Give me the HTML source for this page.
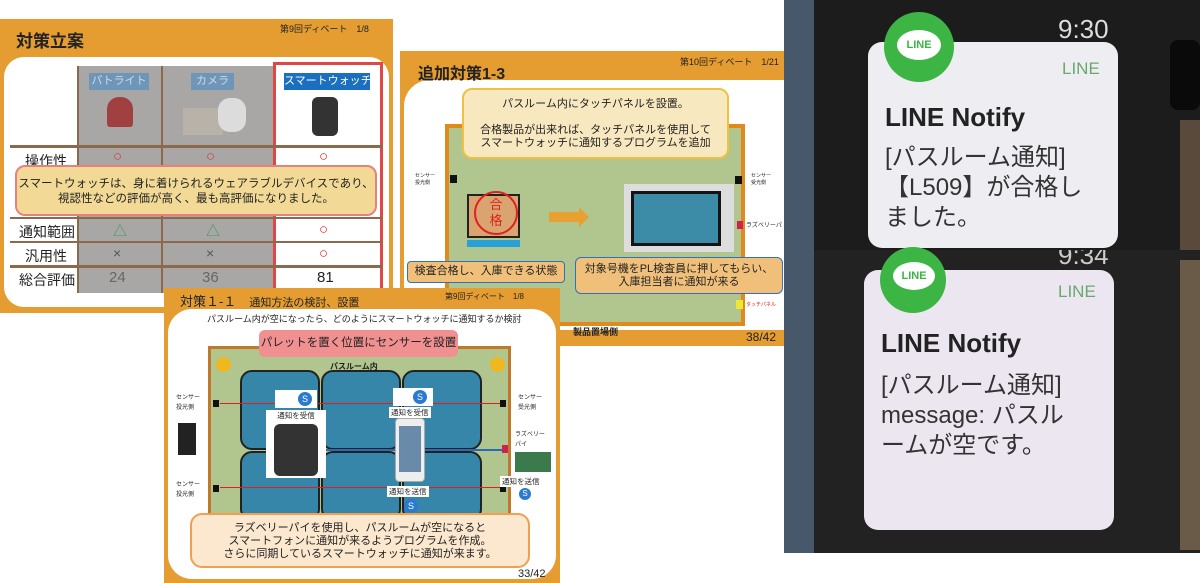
<!DOCTYPE html>
<html><head><meta charset="utf-8"><style>
*{margin:0;padding:0;box-sizing:border-box}
body{width:1200px;height:583px;background:#fff;position:relative;overflow:hidden;font-family:"Liberation Sans","Noto Sans CJK JP",sans-serif;color:#222}
.a{position:absolute}
.t{position:absolute;white-space:nowrap}
</style></head><body>

<!-- Slide 1 -->
<div class="a" style="left:0;top:19px;width:393px;height:294px;background:#e59d32"></div>
<div class="a" style="left:4px;top:57px;width:385px;height:250px;background:#fff;border-radius:20px"></div>
<div class="t" style="left:16px;top:27px;font-size:17px;font-weight:bold">対策立案</div>
<div class="t" style="left:280px;top:22px;font-size:9px">第9回ディベート　1/8</div>
<div class="a" style="left:77px;top:66px;width:196px;height:227px;background:#a9a7a6"></div>
<div class="a" style="left:161px;top:66px;width:2px;height:227px;background:#8a6a4a"></div>
<div class="a" style="left:77px;top:66px;width:2px;height:227px;background:#8a6a4a"></div>
<div class="a" style="left:273px;top:62px;width:110px;height:238px;border:3px solid #e04848"></div>
<div class="t" style="left:89px;top:73px;width:60px;height:17px;background:#6d96b8;color:#cfd9e2;font-size:11px;text-align:center;line-height:17px">パトライト</div>
<div class="t" style="left:191px;top:73px;width:43px;height:17px;background:#6d96b8;color:#cfd9e2;font-size:11px;text-align:center;line-height:17px">カメラ</div>
<div class="t" style="left:284px;top:73px;width:86px;height:17px;background:#1a6fbf;color:#fff;font-size:11px;text-align:center;line-height:17px">スマートウォッチ</div>
<div class="a" style="left:107px;top:97px;width:26px;height:30px;background:#a04040;border-radius:12px 12px 3px 3px"></div>
<div class="a" style="left:183px;top:108px;width:40px;height:27px;background:#b8b2a8"></div>
<div class="a" style="left:218px;top:98px;width:28px;height:34px;background:#dcdcdc;border-radius:12px"></div>
<div class="a" style="left:312px;top:97px;width:26px;height:39px;background:#333;border-radius:6px"></div>
<div class="a" style="left:10px;top:145px;width:373px;height:3px;background:#8a6a4a"></div>
<div class="a" style="left:10px;top:217px;width:373px;height:2px;background:#8a6a4a"></div>
<div class="a" style="left:10px;top:241px;width:373px;height:2px;background:#8a6a4a"></div>
<div class="a" style="left:10px;top:265px;width:373px;height:3px;background:#8a6a4a"></div>
<div class="t" style="left:25px;top:151px;font-size:14px">操作性</div>
<div class="t" style="left:19px;top:222px;font-size:14px">通知範囲</div>
<div class="t" style="left:25px;top:246px;font-size:14px">汎用性</div>
<div class="t" style="left:19px;top:270px;font-size:14px">総合評価</div>
<div class="t" style="left:113px;top:148px;font-size:15px;color:#d04040">○</div>
<div class="t" style="left:206px;top:148px;font-size:15px;color:#d04040">○</div>
<div class="t" style="left:319px;top:148px;font-size:15px;color:#e02020">○</div>
<div class="t" style="left:113px;top:221px;font-size:14px;color:#3a9a5a">△</div>
<div class="t" style="left:206px;top:221px;font-size:14px;color:#3a9a5a">△</div>
<div class="t" style="left:319px;top:221px;font-size:15px;color:#e02020">○</div>
<div class="t" style="left:113px;top:245px;font-size:14px;color:#555">×</div>
<div class="t" style="left:206px;top:245px;font-size:14px;color:#555">×</div>
<div class="t" style="left:319px;top:245px;font-size:15px;color:#e02020">○</div>
<div class="t" style="left:109px;top:269px;font-size:15px;color:#666">24</div>
<div class="t" style="left:202px;top:269px;font-size:15px;color:#666">36</div>
<div class="t" style="left:317px;top:269px;font-size:15px">81</div>
<div class="a" style="left:15px;top:165px;width:362px;height:51px;background:#f2da96;border:2px solid #e88080;border-radius:10px;font-size:11.5px;text-align:center;line-height:15px;padding-top:10px">スマートウォッチは、身に着けられるウェアラブルデバイスであり、<br>視認性などの評価が高く、最も高評価になりました。</div>

<!-- Slide 2 -->
<div class="a" style="left:400px;top:51px;width:400px;height:295px;background:#e59d32"></div>
<div class="a" style="left:404px;top:80px;width:400px;height:250px;background:#fff;border-radius:26px 0 0 0"></div>
<div class="t" style="left:418px;top:60px;font-size:16px;font-weight:bold">追加対策1-3</div>
<div class="t" style="left:680px;top:55px;font-size:9px">第10回ディベート　1/21</div>
<div class="a" style="left:445px;top:124px;width:300px;height:202px;background:#b0c68e;border:4px solid #e08a1c"></div>
<div class="a" style="left:450px;top:175px;width:7px;height:8px;background:#111"></div>
<div class="a" style="left:735px;top:176px;width:7px;height:8px;background:#111"></div>
<div class="t" style="left:415px;top:173px;font-size:5px;line-height:7px">センサー<br>投光側</div>
<div class="t" style="left:751px;top:173px;font-size:5px;line-height:7px">センサー<br>受光側</div>
<div class="a" style="left:467px;top:194px;width:53px;height:44px;background:#d9a470;border:2px solid #222"></div>
<div class="a" style="left:467px;top:240px;width:53px;height:7px;background:#28a0d8"></div>
<div class="a" style="left:474px;top:191px;width:44px;height:44px;border:2px solid #e02020;border-radius:50%;color:#e02020;font-size:13px;text-align:center;line-height:16px;padding-top:4px">合<br>格</div>
<div class="a" style="left:549px;top:212px;width:30px;height:10px;background:#e8a030"></div>
<div class="a" style="left:579px;top:207px;width:0;height:0;border-left:10px solid #e8a030;border-top:10px solid transparent;border-bottom:10px solid transparent"></div>
<div class="a" style="left:624px;top:184px;width:110px;height:68px;background:#ddd"></div>
<div class="a" style="left:631px;top:191px;width:90px;height:55px;background:#141414;padding:3px"><div style="width:100%;height:100%;background:#3c8ca8"></div></div>
<div class="a" style="left:737px;top:221px;width:6px;height:8px;background:#d02050"></div>
<div class="t" style="left:746px;top:220px;font-size:6px">ラズベリーパ</div>
<div class="a" style="left:736px;top:300px;width:7px;height:9px;background:#eee830"></div>
<div class="t" style="left:746px;top:301px;font-size:5px;color:#e02020">タッチパネル</div>
<div class="a" style="left:462px;top:88px;width:267px;height:71px;background:#f8e8bf;border:2px solid #f0c040;border-radius:10px;font-size:11px;text-align:center;line-height:13px;padding-top:8px">パスルーム内にタッチパネルを設置。<br><br>合格製品が出来れば、タッチパネルを使用して<br>スマートウォッチに通知するプログラムを追加</div>
<div class="a" style="left:407px;top:261px;width:158px;height:22px;background:#f0c07a;border:1.5px solid #3070c0;border-radius:4px;font-size:11px;text-align:center;line-height:19px">検査合格し、入庫できる状態</div>
<div class="a" style="left:575px;top:257px;width:208px;height:37px;background:#f0c07a;border:1.5px solid #3070c0;border-radius:6px;font-size:11px;text-align:center;line-height:13px;padding-top:5px">対象号機をPL検査員に押してもらい、<br>入庫担当者に通知が来る</div>
<div class="t" style="left:573px;top:325px;font-size:9px;font-weight:bold">製品置場側</div>
<div class="t" style="left:746px;top:330px;font-size:12px">38/42</div>

<!-- Slide 3 -->
<div class="a" style="left:164px;top:288px;width:396px;height:295px;background:#e59d32"></div>
<div class="a" style="left:168px;top:309px;width:388px;height:270px;background:#fff;border-radius:24px"></div>
<div class="t" style="left:180px;top:291px;font-size:13px">対策１-１　<span style="font-size:11px">通知方法の検討、設置</span></div>
<div class="t" style="left:445px;top:291px;font-size:8px">第9回ディベート　1/8</div>
<div class="t" style="left:207px;top:312px;font-size:9px">パスルーム内が空になったら、どのようにスマートウォッチに通知するか検討</div>
<div class="a" style="left:208px;top:346px;width:303px;height:175px;background:#b0c68e;border:3px solid #c0782a"></div>
<div class="a" style="left:216px;top:357px;width:15px;height:15px;border-radius:50%;background:#f0b820"></div>
<div class="a" style="left:490px;top:357px;width:15px;height:15px;border-radius:50%;background:#f0b820"></div>
<div class="t" style="left:330px;top:361px;font-size:8px;font-weight:bold">パスルーム内</div>
<div class="a" style="left:240px;top:370px;width:80px;height:80px;background:#3586a8;border:2px solid #222;border-radius:12px"></div>
<div class="a" style="left:321px;top:370px;width:80px;height:80px;background:#3586a8;border:2px solid #222;border-radius:12px"></div>
<div class="a" style="left:402px;top:370px;width:80px;height:80px;background:#3586a8;border:2px solid #222;border-radius:12px"></div>
<div class="a" style="left:240px;top:451px;width:80px;height:70px;background:#3586a8;border:2px solid #222;border-radius:12px"></div>
<div class="a" style="left:321px;top:451px;width:80px;height:70px;background:#3586a8;border:2px solid #222;border-radius:12px"></div>
<div class="a" style="left:402px;top:451px;width:80px;height:70px;background:#3586a8;border:2px solid #222;border-radius:12px"></div>
<div class="a" style="left:220px;top:403px;width:285px;height:1px;background:#e02020"></div>
<div class="a" style="left:220px;top:487px;width:285px;height:1px;background:#e02020"></div>
<div class="a" style="left:325px;top:449px;width:180px;height:2px;background:#2a6ab8"></div>
<div class="a" style="left:213px;top:400px;width:6px;height:7px;background:#111"></div>
<div class="a" style="left:500px;top:400px;width:6px;height:7px;background:#111"></div>
<div class="a" style="left:213px;top:485px;width:6px;height:7px;background:#111"></div>
<div class="a" style="left:500px;top:485px;width:6px;height:7px;background:#111"></div>
<div class="a" style="left:502px;top:445px;width:6px;height:8px;background:#d02050"></div>
<div class="t" style="left:176px;top:393px;font-size:6px;line-height:10px">センサー<br>投光側</div>
<div class="t" style="left:176px;top:480px;font-size:6px;line-height:10px">センサー<br>投光側</div>
<div class="t" style="left:518px;top:393px;font-size:6px;line-height:10px">センサー<br>受光側</div>
<div class="t" style="left:515px;top:430px;font-size:6px;line-height:10px">ラズベリー<br>パイ</div>
<div class="a" style="left:178px;top:423px;width:18px;height:32px;background:#222"></div>
<div class="a" style="left:515px;top:452px;width:36px;height:20px;background:#3b7a4a"></div>
<div class="a" style="left:275px;top:390px;width:42px;height:18px;background:#fff"></div>
<div class="a" style="left:298px;top:392px;width:14px;height:14px;border-radius:50%;background:#2a7ad0;color:#fff;font-size:9px;text-align:center;line-height:14px">S</div>
<div class="a" style="left:266px;top:410px;width:60px;height:68px;background:#fff;font-size:7.5px;text-align:center"><div>通知を受信</div><div style="margin:3px auto;width:44px;height:52px;background:#333;border-radius:6px"></div></div>
<div class="a" style="left:393px;top:388px;width:40px;height:18px;background:#fff"></div>
<div class="a" style="left:413px;top:390px;width:14px;height:14px;border-radius:50%;background:#2a7ad0;color:#fff;font-size:9px;text-align:center;line-height:14px">S</div>
<div class="t" style="left:389px;top:407px;background:#fff;font-size:7.5px;padding:0 2px">通知を受信</div>
<div class="a" style="left:395px;top:418px;width:30px;height:64px;background:#eee;border:1px solid #aaa;border-radius:4px"><div style="margin:7px 3px;height:46px;background:#6a8aaa"></div></div>
<div class="t" style="left:387px;top:486px;background:#fff;font-size:7.5px;padding:0 2px">通知を送信</div>
<div class="a" style="left:404px;top:499px;width:14px;height:14px;border-radius:50%;background:#2a7ad0;color:#fff;font-size:9px;text-align:center;line-height:14px">S</div>
<div class="t" style="left:500px;top:476px;background:#fff;font-size:7.5px;padding:0 2px">通知を送信</div>
<div class="a" style="left:519px;top:488px;width:12px;height:12px;border-radius:50%;background:#2a7ad0;color:#fff;font-size:8px;text-align:center;line-height:12px">S</div>
<div class="a" style="left:259px;top:330px;width:199px;height:27px;background:#f09090;border-radius:6px;font-size:11.5px;text-align:center;line-height:27px">パレットを置く位置にセンサーを設置</div>
<div class="a" style="left:190px;top:513px;width:340px;height:55px;background:#fbe8ce;border:2px solid #f0a050;border-radius:12px;font-size:11px;text-align:center;line-height:13px;padding-top:7px">ラズベリーパイを使用し、パスルームが空になると<br>スマートフォンに通知が来るようプログラムを作成。<br>さらに同期しているスマートウォッチに通知が来ます。</div>
<div class="t" style="left:518px;top:568px;font-size:11px">33/42</div>

<!-- Photos -->
<div class="a" style="left:784px;top:0;width:416px;height:250px;background:#1c1c1c"></div>
<div class="a" style="left:784px;top:250px;width:416px;height:303px;background:#222"></div>
<div class="a" style="left:784px;top:0;width:30px;height:553px;background:#46586a"></div>
<div class="a" style="left:1170px;top:40px;width:30px;height:70px;background:#0a0a0a;border-radius:8px"></div>
<div class="a" style="left:1180px;top:120px;width:20px;height:130px;background:#5a4a3c"></div>
<div class="a" style="left:1180px;top:260px;width:20px;height:290px;background:#6a5a48"></div>
<div class="a" style="left:868px;top:42px;width:250px;height:206px;background:#eeeef2;border-radius:14px"></div>
<div class="a" style="left:864px;top:270px;width:250px;height:260px;background:#ece6f0;border-radius:14px"></div>
<div class="a" style="left:884px;top:12px;width:70px;height:70px;border-radius:50%;background:#3cb544"></div>
<div class="a" style="left:897px;top:30px;width:44px;height:30px;border-radius:50%;background:#fff;color:#3cb544;font-size:11px;font-weight:bold;text-align:center;line-height:30px">LINE</div>
<div class="a" style="left:880px;top:247px;width:66px;height:66px;border-radius:50%;background:#3cb544"></div>
<div class="a" style="left:893px;top:262px;width:42px;height:28px;border-radius:50%;background:#fff;color:#3cb544;font-size:11px;font-weight:bold;text-align:center;line-height:28px">LINE</div>
<div class="t" style="left:1058px;top:14px;font-size:26px;color:#ddd">9:30</div>
<div class="t" style="left:1058px;top:240px;font-size:26px;color:#ccc;clip-path:inset(10px 0 0 0)">9:34</div>
<div class="t" style="left:1062px;top:59px;font-size:17px;color:#6aa870">LINE</div>
<div class="t" style="left:1058px;top:282px;font-size:17px;color:#6aa870">LINE</div>
<div class="t" style="left:885px;top:102px;font-size:26px;font-weight:bold;color:#222">LINE Notify</div>
<div class="t" style="left:885px;top:143px;font-size:24px;line-height:30px;color:#333">[パスルーム通知]<br>【L509】が合格し<br>ました。</div>
<div class="t" style="left:881px;top:328px;font-size:26px;font-weight:bold;color:#222">LINE Notify</div>
<div class="t" style="left:881px;top:371px;font-size:24px;line-height:30px;color:#333">[パスルーム通知]<br>message: パスル<br>ームが空です。</div>
</body></html>
